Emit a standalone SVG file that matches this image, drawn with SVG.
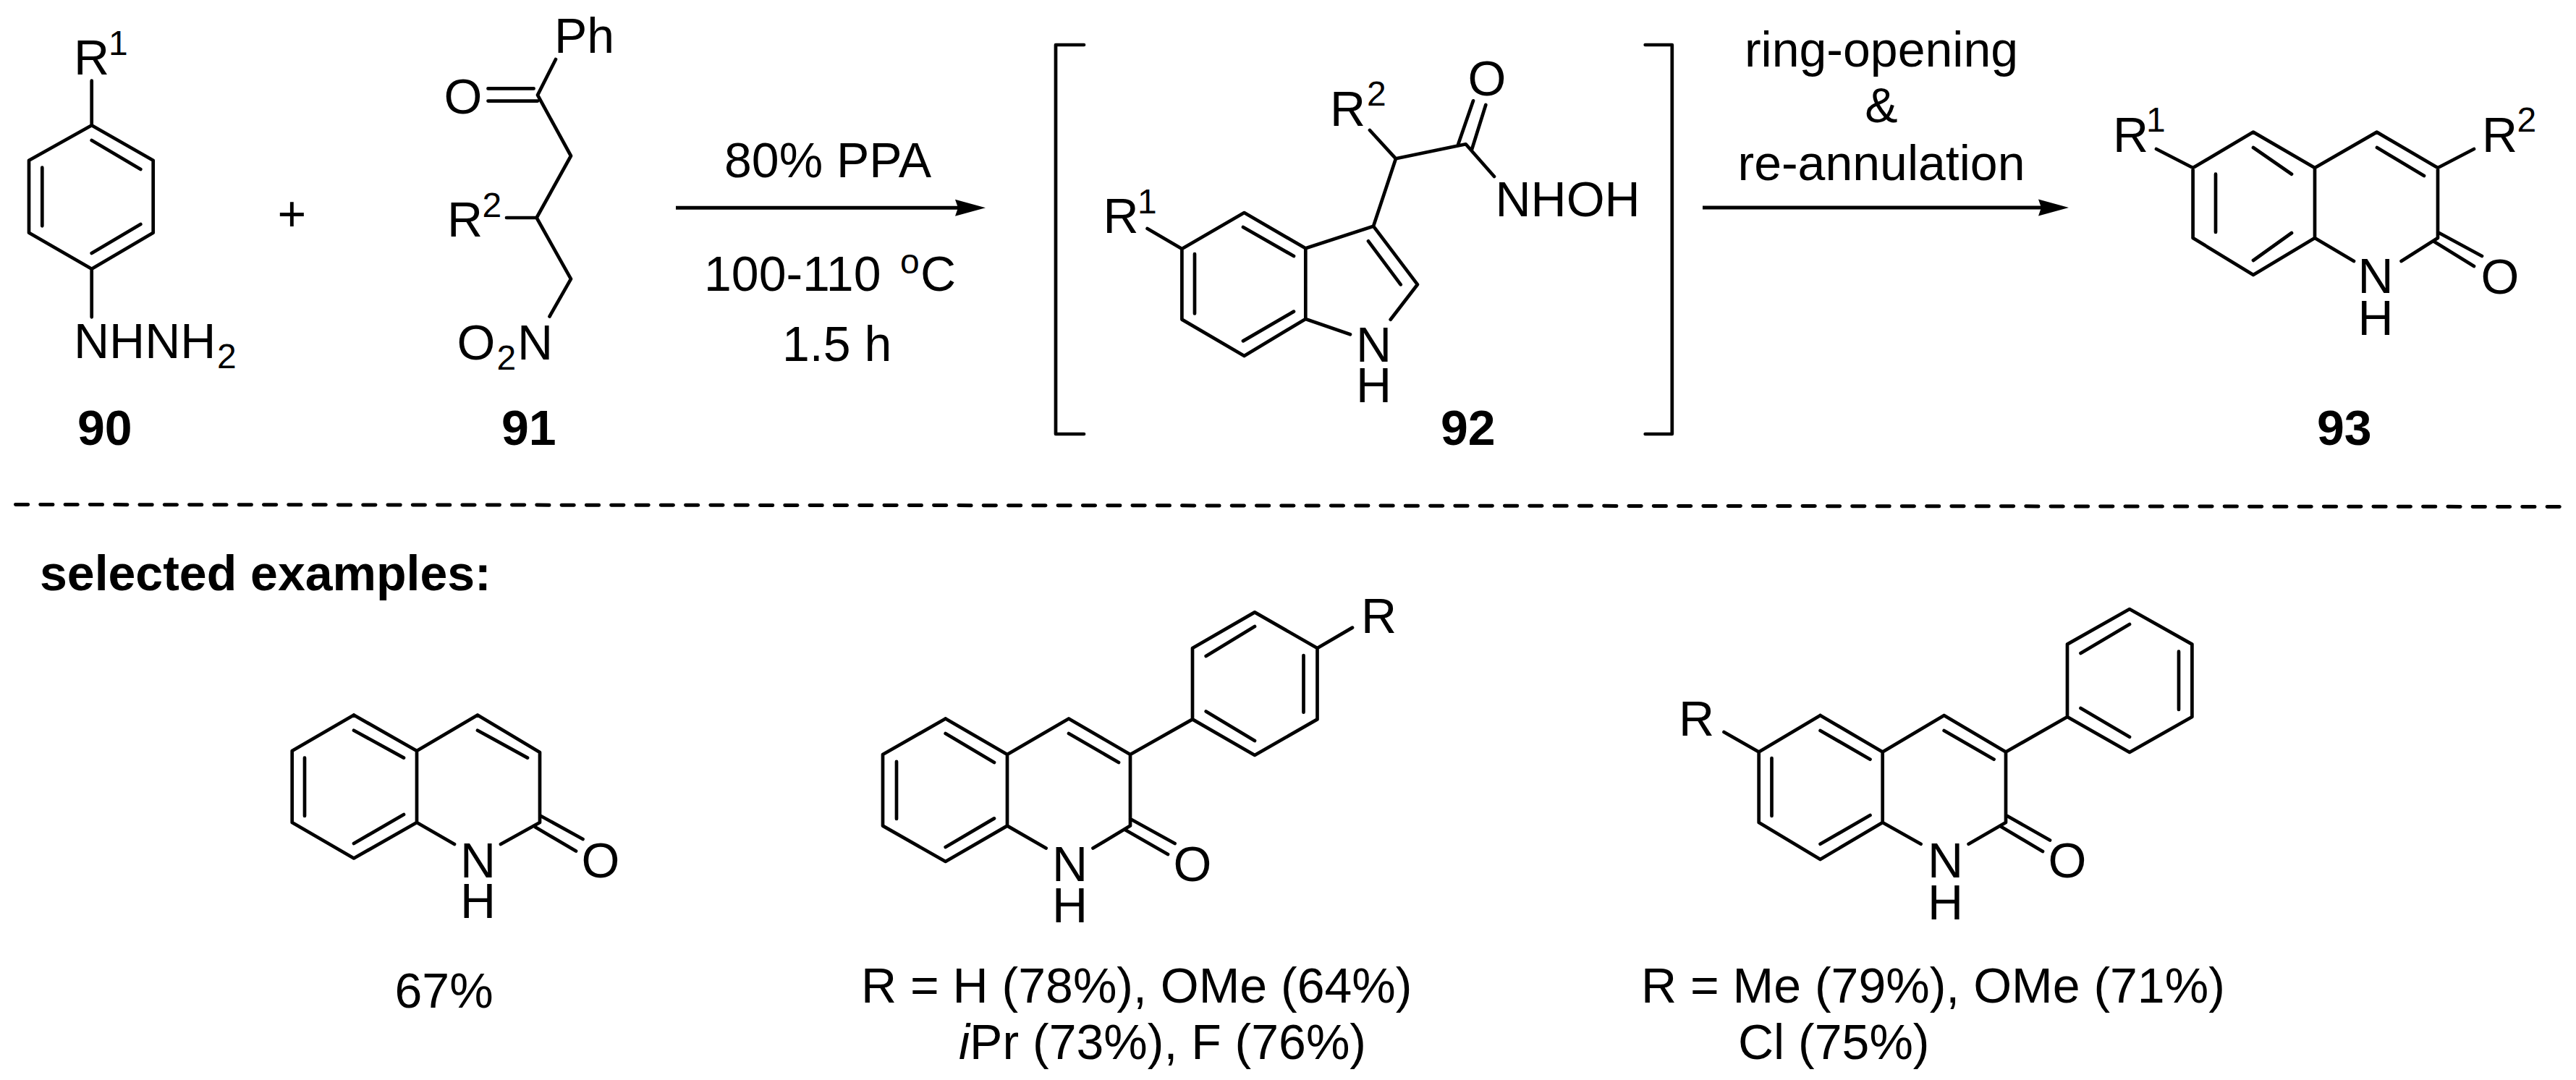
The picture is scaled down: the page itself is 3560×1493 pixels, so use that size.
<svg xmlns="http://www.w3.org/2000/svg" width="3560" height="1493" viewBox="0 0 3560 1493">
<style>
text{font-family:"Liberation Sans",Arial,sans-serif;font-size:68px;fill:#000}
.s{font-size:48px}
.l{font-weight:bold}
.b{fill:none;stroke:#000;stroke-width:4.7;stroke-linecap:round;stroke-linejoin:round}
.a{fill:none;stroke:#000;stroke-width:5}
.d{fill:none;stroke:#000;stroke-width:5;stroke-linecap:round;stroke-dasharray:17.2 17.1}
</style>
<defs>
<marker id="head" markerUnits="userSpaceOnUse" viewBox="0 -13 44 26" markerWidth="44" markerHeight="26" refX="6" refY="0" orient="auto">
<path d="M0,-11.5L42,0L0,11.5L4,0Z" fill="#000"/>
</marker>
</defs>
<g id="compound-90">
<path class="b" d="M126.7,111.7V173.3L211.7,221.7V321.7L126.7,371.7L40,321.7V221.7L126.7,173.3M126.7,194L194.3,234M58.3,231.7V312.3M126.7,350L194.3,310M126.7,371.7V438.3"/>
<text x="102" y="103">R<tspan class="s" x="150" y="75.5">1</tspan></text>
<text x="102" y="495">NHNH<tspan class="s" x="300" y="509.3">2</tspan></text>
<text class="l" x="107" y="615">90</text>
</g>
<g id="plus"><text x="403.3" y="319" text-anchor="middle">+</text></g>
<g id="compound-91">
<path class="b" d="M768,82L743,131.4L789,215.5L741.6,301L789,385.7L759.5,437.5M674.5,122.4H737.6M674.5,139.6H743M700,301H741.6"/>
<text x="766" y="72.7">Ph</text>
<text x="613.6" y="157">O</text>
<text x="618" y="327">R<tspan class="s" x="666.5" y="300">2</tspan></text>
<text x="631.6" y="497">O<tspan class="s" x="686.5" y="511">2</tspan><tspan x="715" y="497">N</tspan></text>
<text class="l" x="693" y="615">91</text>
</g>
<g id="conditions-1">
<text x="1001" y="245">80% PPA</text>
<text x="973" y="402">100-110<tspan class="s" x="1244" y="377.6">o</tspan><tspan x="1272" y="402">C</tspan></text>
<text x="1081" y="499">1.5 h</text>
</g>
<g id="compound-92">
<path class="b" d="M1498,62H1459V600H1498"/>
<path class="b" d="M2273.7,62H2310.8V600H2273.7"/>
<path class="b" d="M1585.6,316L1633.4,344L1719.5,294L1804.3,343.3V441L1719.5,492L1633.4,441.6V344M1718,314L1788,354M1651,351V433.5M1718,471.4L1788,430.6M1804.3,343.3L1898,312.7L1959,393.3L1921.7,441.7M1804.3,441L1866,462.3M1891,333.3L1935.7,393.3M1898,312.7L1929,219.3L2025.7,199.3L2065,244M1893,180L1929,219.3M2015,200L2036,139.3M2034,206.7L2053.3,145"/>
<text x="1524.5" y="321.6">R<tspan class="s" x="1572" y="294.7">1</tspan></text>
<text x="1838" y="174.3">R<tspan class="s" x="1889" y="146">2</tspan></text>
<text x="2028.6" y="132">O</text>
<text x="2066.5" y="298.7">NHOH</text>
<text x="1874" y="500">N</text>
<text x="1874" y="556">H</text>
<text class="l" x="1991" y="615">92</text>
</g>
<g id="conditions-2">
<text x="2600" y="92" text-anchor="middle">ring-opening</text>
<text x="2600" y="169" text-anchor="middle">&amp;</text>
<text x="2600" y="248.7" text-anchor="middle">re-annulation</text>
</g>
<g id="compound-93">
<path class="b" d="M2980,206L3030.6,232L3114,182.6L3199,232V329L3114,380L3030.6,329V232M3199,232L3284.7,182.6L3369,232V329L3318.6,361M3199,329L3253,361M3114,204L3167,240.7M3285,204L3350,243M3062,240.7V321M3114,360L3167,322M3419,206L3369,232M3369,321L3430,354M3364,334L3419,368"/>
<text x="2920" y="210">R<tspan class="s" x="2966" y="181.7">1</tspan></text>
<text x="3430" y="210">R<tspan class="s" x="3478.5" y="181.7">2</tspan></text>
<text x="3258.5" y="405">N</text>
<text x="3258.5" y="462.5">H</text>
<text x="3428.6" y="406">O</text>
<text class="l" x="3202" y="615">93</text>
</g>
<g id="connectors">
<line class="a" x1="934" y1="287.3" x2="1326" y2="287.3" marker-end="url(#head)"/>
<line class="a" x1="2353" y1="287" x2="2823" y2="287" marker-end="url(#head)"/>
<line class="d" x1="21.5" y1="697.5" x2="3539" y2="700.5"/>
</g>
<g id="heading"><text class="l" x="55" y="816">selected examples:</text></g>
<g id="example-1">
<path class="b" d="M489,988.5L576,1038V1137L489,1186.5L403.7,1137V1038L489,988.5M576,1038L660,988.5L746,1040V1137L692,1167M576,1137L628,1167M489,1009.7L558,1047.6M660,1009.7L729,1047.6M421,1047.6V1128M489,1166L558,1126M747.4,1128L805.5,1160M740,1143.6L796,1176.6"/>
<text x="636" y="1212.6">N</text>
<text x="636" y="1269">H</text>
<text x="803.6" y="1212.6">O</text>
<text x="545.5" y="1393">67%</text>
</g>
<g id="example-2">
<path class="b" d="M1306.7,993.5L1392,1043V1141.6L1306.7,1191L1220,1141.6V1043L1306.7,993.5M1392,1043L1477,993.5L1562,1043V1141.6L1510.5,1172.5M1392,1141.6L1445.6,1172.5M1306.7,1014L1374,1054M1477,1014L1546,1054M1239,1052.8V1132M1306.7,1171L1374,1131.4M1562,1132L1623.6,1166M1554.7,1147L1614,1181M1562,1043L1648,994.4V896L1734,846.4L1820.5,896V994.4L1734,1044L1648,994.4M1820.5,896L1869,867.6M1734,866L1666.7,907M1801.5,906V984.7M1666.7,983.4L1734,1024"/>
<text x="1881" y="875">R</text>
<text x="1454" y="1217.6">N</text>
<text x="1454" y="1275">H</text>
<text x="1621.6" y="1217.6">O</text>
<text x="1190" y="1385.5">R = H (78%), OMe (64%)</text>
<text x="1325" y="1464"><tspan font-style="italic">i</tspan>Pr (73%), F (76%)</text>
</g>
<g id="example-3">
<path class="b" d="M2515.6,989L2601.7,1039.5V1137L2515.6,1188L2430.7,1137V1039.5L2515.6,989M2601.7,1039.5L2686.7,989L2772,1039.5V1137L2720.6,1166.8M2601.7,1137L2654.6,1166.8M2515.6,1010L2584.5,1049.7M2686.7,1010L2755.6,1049.7M2448.5,1048V1128M2515.6,1166.8L2584.5,1127M2774,1128L2833,1161.5M2765,1142.5L2823,1177M2430.7,1039.5L2382.5,1012M2772,1039.5L2857,991V890.6L2943,842L3029.4,890.6V991L2943,1040L2857,991M2943,863L2875.5,903M3011,900.7V981M2875.5,979L2943,1018.7"/>
<text x="2320" y="1016.5">R</text>
<text x="2664" y="1213">N</text>
<text x="2664" y="1270.6">H</text>
<text x="2830.6" y="1213">O</text>
<text x="2268" y="1385.5">R = Me (79%), OMe (71%)</text>
<text x="2402" y="1464">Cl (75%)</text>
</g>
</svg>
